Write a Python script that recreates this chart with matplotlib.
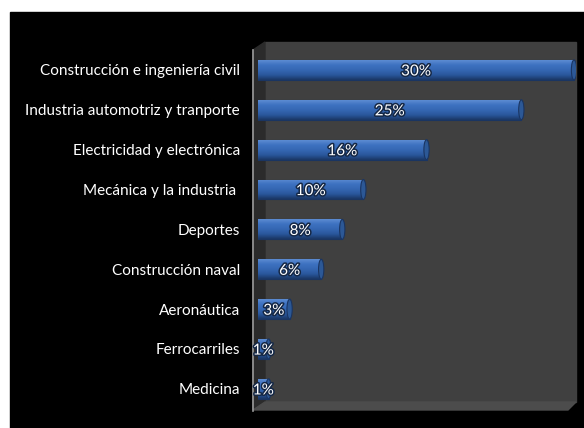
import matplotlib.pyplot as plt
import matplotlib.patheffects as pe
from matplotlib.patches import Rectangle, Polygon, Ellipse
from matplotlib.colors import LinearSegmentedColormap
import numpy as np

# chart data (top to bottom)
categories = ['Construcción e ingeniería civil', 'Industria automotriz y tranporte',
              'Electricidad y electrónica', 'Mecánica y la industria ', 'Deportes',
              'Construcción naval', 'Aeronáutica', 'Ferrocarriles', 'Medicina']
values = [30, 25, 16, 10, 8, 6, 3, 1, 1]
value_labels = ['30%', '25%', '16%', '10%', '8%', '6%', '3%', '1%', '1%']

plt.rcParams['font.family'] = ['Lato', 'DejaVu Sans']

W, H = 584, 428
fig = plt.figure(figsize=(W / 100, H / 100), dpi=100, facecolor='white')

# background layer in pixel coordinates
bg = fig.add_axes([0, 0, 1, 1])
bg.set_xlim(0, W)
bg.set_ylim(H, 0)
bg.axis('off')
bg.add_patch(Rectangle((10, 12), W - 10, H - 12, color='black'))
# back wall
bg.add_patch(Rectangle((265, 42), 311, 360, color='#404040'))
# side wall
bg.add_patch(Polygon([(253, 50), (265, 42), (265, 402), (253, 410)], color='#2b2b2b'))
# floor
bg.add_patch(Polygon([(253, 410), (265, 402), (576, 402), (568, 410)], color='#4c4c4c'))
bg.plot([253, 253], [50, 411], color='#9a9a9a', lw=1.2)

# main axes: x 0..30 maps to 258..574 px
left, right, top, bottom = 258, 576, 42, 402
ax = fig.add_axes([left / W, 1 - bottom / H, (right - left) / W, (bottom - top) / H])
ax.set_facecolor('none')
xmax = 30 * (right - left) / (574 - left)

y = np.arange(len(values))
h = 0.5
cmap = LinearSegmentedColormap.from_list('bar', ['#5b8bd2', '#3d71c0', '#3567b3', '#2a579c', '#1a3866'])
grad = np.linspace(0, 1, 50).reshape(-1, 1)
bars = ax.barh(y, values, height=h, color='#3567b3', edgecolor='#1a3562', linewidth=0.8, zorder=2)
for b, v, yi in zip(bars, values, y):
    im = ax.imshow(grad, extent=[0, v, yi + h / 2, yi - h / 2], aspect='auto', cmap=cmap, zorder=2.5)
    im.set_clip_path(b)
    ax.add_patch(Ellipse((v, yi), 0.5, h, facecolor='#2c5896', edgecolor='#1a3562', lw=0.8, zorder=3))
ax.set_xlim(0, xmax)
ax.set_ylim(8.33, -0.7)

for v, yi, lab in zip(values, y, value_labels):
    ax.text(v / 2, yi + 0.04, lab, color='white', ha='center', va='center', fontsize=11,
            zorder=4, path_effects=[pe.withStroke(linewidth=2.2, foreground='#152846')])

ax.set_yticks(y)
ax.set_yticklabels(categories, color='white', fontsize=11)
ax.tick_params(axis='y', length=0, pad=13)
ax.set_xticks([])
for s in ax.spines.values():
    s.set_visible(False)

fig.savefig('out.png', dpi=100, facecolor='white')
